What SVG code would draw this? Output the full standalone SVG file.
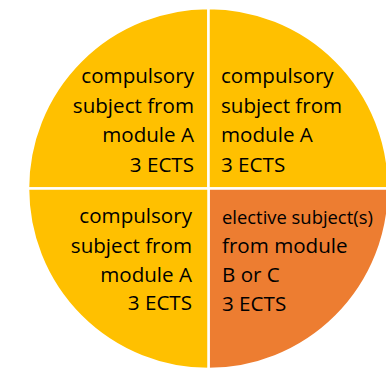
<svg xmlns="http://www.w3.org/2000/svg" width="386" height="370" viewBox="0 0 386 370">
<style>
.q{stroke:#fff;stroke-width:2.5;stroke-linejoin:miter}
.y{fill:#FFC000}
.o{fill:#ED7D31}
text{font-family:"Open Sans","Liberation Sans",sans-serif;font-size:20.6px;fill:#000}
.r{text-anchor:end}
.sm{font-size:18.4px}
</style>
<rect width="386" height="370" fill="#fff"/>
<g id="q-top-left">
<path class="q y" d="M208.5,188.5 L28,188.5 A180.5,180.5 0 0 1 208.5,8 Z"/>
<text class="r" x="194" y="83">compulsory</text>
<text class="r" x="194" y="112.5">subject from</text>
<text class="r" x="194" y="142">module A</text>
<text class="r" x="194" y="171.5">3 ECTS</text>
</g>
<g id="q-top-right">
<path class="q y" d="M208.5,188.5 L208.5,8 A180.5,180.5 0 0 1 389,188.5 Z"/>
<text x="221" y="83">compulsory</text>
<text x="221" y="112.5">subject from</text>
<text x="221" y="142">module A</text>
<text x="221" y="171.5">3 ECTS</text>
</g>
<g id="q-bottom-right">
<path class="q o" d="M208.5,188.5 L389,188.5 A180.5,180.5 0 0 1 208.5,369 Z"/>
<text class="sm" x="222" y="224">elective subject(s)</text>
<text x="222" y="253">from module</text>
<text x="222" y="281.5">B or C</text>
<text x="222" y="311">3 ECTS</text>
</g>
<g id="q-bottom-left">
<path class="q y" d="M208.5,188.5 L208.5,369 A180.5,180.5 0 0 1 28,188.5 Z"/>
<text class="r" x="192" y="223">compulsory</text>
<text class="r" x="192" y="252.5">subject from</text>
<text class="r" x="192" y="282">module A</text>
<text class="r" x="192" y="310">3 ECTS</text>
</g>
<g id="connectors"/>
</svg>
